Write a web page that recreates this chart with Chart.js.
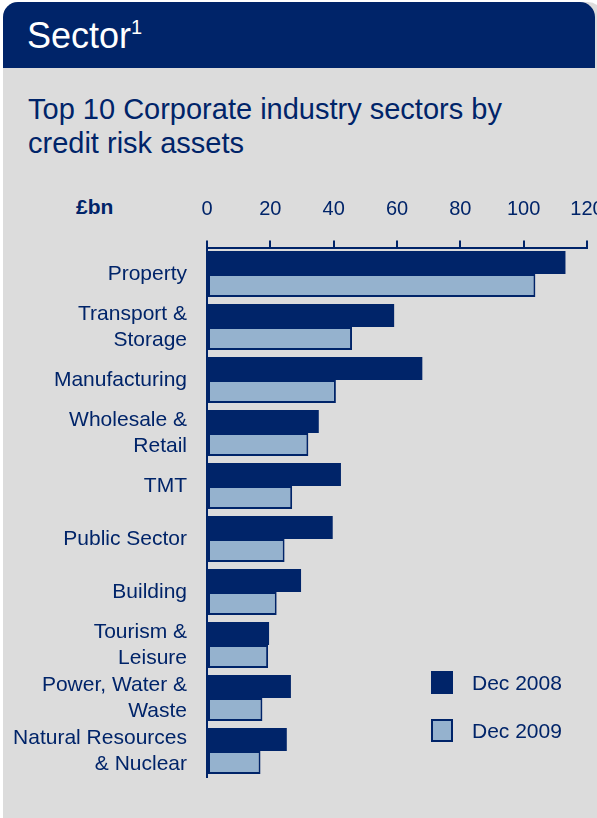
<!DOCTYPE html>
<html>
<head>
<meta charset="utf-8">
<script src="https://cdn.jsdelivr.net/npm/chart.js@4/dist/chart.umd.min.js"></script>
<style>
  html, body { margin: 0; padding: 0; }
  body {
    width: 597px; height: 818px; overflow: hidden; position: relative;
    background: #ffffff; font-family: "Liberation Sans", Arial, sans-serif;
  }
  .panel {
    position: absolute; left: 3px; top: 2px; width: 600px; height: 816px;
    background: #dcdcdc; border-radius: 15px 15px 0 0; overflow: hidden;
  }
  .band {
    position: absolute; left: 3px; top: 2px; width: 592px; height: 66px;
    background: #002469; border-radius: 15px 15px 0 0;
  }
  .band h1 {
    position: absolute; left: 24px; top: 13px; margin: 0;
    font-size: 36px; font-weight: normal; color: #ffffff; line-height: 42px;
  }
  .band h1 sup { font-size: 20px; vertical-align: 0; position: relative; top: -14px; }
  .title {
    position: absolute; left: 28px; top: 92px; margin: 0;
    font-size: 29px; line-height: 34px; color: #002469; font-weight: normal;
  }
  .unit {
    position: absolute; left: 76px; top: 195px;
    font-size: 21px; font-weight: bold; color: #002469;
  }
  .chart-box { position: absolute; left: 0; top: 170px; width: 640px; height: 620px; }
  #legend { position: absolute; left: 431px; top: 671px; }
  #legend div { height: 48px; position: relative; }
  #legend span.box { position: absolute; left: 0; top: 0; width: 22px; height: 23px; box-sizing: border-box; }
  #legend span.txt { position: absolute; left: 41px; top: 0; font-size: 21px; line-height: 23px; color: #002469; white-space: nowrap; }
</style>
</head>
<body>
<div class="panel"></div>
<div class="band"><h1>Sector<sup>1</sup></h1></div>
<p class="title">Top 10 Corporate industry sectors by<br>credit risk assets</p>
<div class="unit">£bn</div>
<div class="chart-box"><canvas id="sectorChart"></canvas></div>
<div id="legend"></div>
<script>
const sectors = [
  'Property',
  ['Transport &', 'Storage'],
  'Manufacturing',
  ['Wholesale &', 'Retail'],
  'TMT',
  'Public Sector',
  'Building',
  ['Tourism &', 'Leisure'],
  ['Power, Water &', 'Waste'],
  ['Natural Resources', '& Nuclear']
];
const dec2008 = [113.2, 59.1, 68.0, 35.3, 42.3, 39.7, 29.7, 19.6, 26.5, 25.2];
const dec2009 = [103.7, 45.8, 40.7, 32.0, 26.9, 24.5, 22.0, 19.3, 17.5, 16.9];
const xTicks = [0, 20, 40, 60, 80, 100, 120];

const navy = '#002469';
const lightBlue = '#95b2ce';

const chart = new Chart(document.getElementById('sectorChart'), {
    type: 'bar',
    data: {
        labels: sectors,
        datasets: [{
            label: 'Dec 2008',
            data: dec2008,
            backgroundColor: navy,
            borderColor: navy,
            borderWidth: 0
        }, {
            label: 'Dec 2009',
            data: dec2009,
            backgroundColor: lightBlue,
            borderColor: navy,
            borderWidth: 2,
            borderSkipped: false
        }]
    },
    options: {
        indexAxis: 'y',
        responsive: true,
        maintainAspectRatio: false,
        animation: false,
        datasets: {
            bar: { barPercentage: 1, categoryPercentage: 0.868 }
        },
        layout: {
            padding: { left: 0, right: 53, top: 0, bottom: 12.5 }
        },
        plugins: {
            legend: { display: false },
            tooltip: { enabled: false }
        },
        scales: {
            x: {
                position: 'top',
                min: xTicks[0],
                max: xTicks[xTicks.length - 1],
                afterBuildTicks: (scale) => {
                    scale.ticks = xTicks.map(v => ({ value: v }));
                },
                afterFit: (scale) => { scale.height = 77.5; },
                ticks: {
                    color: navy,
                    padding: 19.5,
                    maxRotation: 0,
                    font: { family: '"Liberation Sans", Arial', size: 20 }
                },
                grid: {
                    drawOnChartArea: false,
                    drawTicks: true,
                    tickLength: 7,
                    color: navy,
                    lineWidth: 2
                },
                border: { display: true, color: navy, width: 2 }
            },
            y: {
                afterFit: (scale) => {
                    scale.width = 207;
                    // the two-line labels sit inside their bands, no extra room needed
                    scale.paddingTop = 0;
                    scale.paddingBottom = 0;
                },
                ticks: {
                    color: navy,
                    padding: 20,
                    autoSkip: false,
                    font: { family: '"Liberation Sans", Arial', size: 21, lineHeight: 1.24 }
                },
                grid: { drawOnChartArea: false, drawTicks: false },
                border: { display: true, color: navy, width: 2 }
            }
        }
    }
});

// legend built from the datasets
const legendEl = document.getElementById('legend');
chart.data.datasets.forEach(ds => {
    const row = document.createElement('div');
    const box = document.createElement('span');
    box.className = 'box';
    box.style.background = ds.backgroundColor;
    if (ds.borderWidth) box.style.border = ds.borderWidth + 'px solid ' + ds.borderColor;
    const txt = document.createElement('span');
    txt.className = 'txt';
    txt.textContent = ds.label;
    row.appendChild(box);
    row.appendChild(txt);
    legendEl.appendChild(row);
});
</script>
</body>
</html>
